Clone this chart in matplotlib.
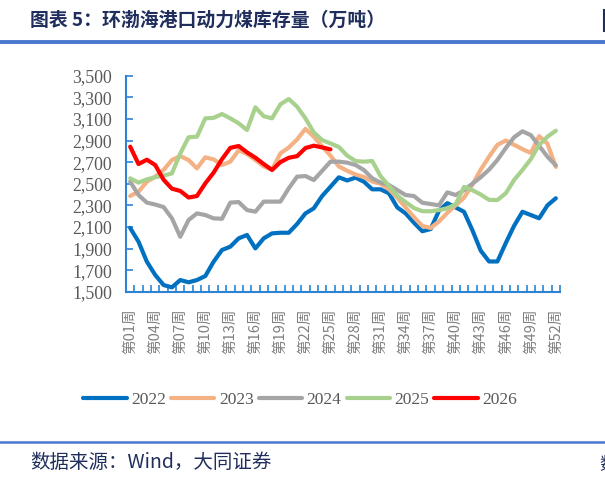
import matplotlib.pyplot as plt
from matplotlib.lines import Line2D
import numpy as np

plt.rcParams['font.family'] = ['Noto Sans CJK SC', 'DejaVu Sans']

# weekly inventory (10k tons), weeks 1-52
weeks = np.arange(1, 53)
y2022 = [2090, 1963, 1778, 1655, 1562, 1540, 1608, 1587, 1608, 1645, 1778, 1886, 1917,
         1994, 2025, 1901, 1994, 2040, 2046, 2046, 2127, 2225, 2272, 2386, 2472, 2559,
         2530, 2556, 2519, 2448, 2448, 2411, 2281, 2225, 2139, 2060, 2080, 2250, 2320,
         2280, 2240, 2070, 1880, 1780, 1780, 1950, 2110, 2240, 2210, 2180, 2300, 2365]
y2023 = [2386, 2426, 2519, 2565, 2627, 2719, 2756, 2719, 2642, 2744, 2725, 2673, 2704,
         2810, 2775, 2720, 2660, 2630, 2781, 2835, 2910, 3008, 2935, 2845, 2760, 2660,
         2620, 2585, 2562, 2520, 2500, 2450, 2370, 2280, 2190, 2110, 2090, 2150, 2230,
         2300, 2370, 2490, 2630, 2750, 2860, 2900, 2860, 2820, 2785, 2940, 2870, 2655]
y2024 = [2519, 2395, 2325, 2307, 2284, 2180, 2009, 2164, 2225, 2210, 2179, 2175, 2325,
         2330, 2256, 2241, 2334, 2334, 2334, 2457, 2565, 2571, 2534, 2619, 2704, 2704,
         2695, 2673, 2627, 2550, 2510, 2488, 2441, 2395, 2386, 2324, 2312, 2300, 2420,
         2395, 2440, 2500, 2560, 2630, 2720, 2830, 2930, 2985, 2950, 2850, 2750, 2670]
y2025 = [2550, 2510, 2540, 2560, 2575, 2595, 2780, 2930, 2935, 3105, 3110, 3145, 3105,
         3059, 2997, 3207, 3125, 3105, 3235, 3284, 3213, 3105, 2975, 2904, 2873, 2840,
         2760, 2710, 2704, 2710, 2570, 2480, 2390, 2330, 2275, 2245, 2245, 2256, 2272,
         2310, 2470, 2440, 2400, 2350, 2349, 2411, 2534, 2627, 2727, 2860, 2935, 2991]
y2026 = [2843, 2682, 2722, 2673, 2537, 2454, 2433, 2372, 2386, 2503, 2603, 2727, 2832,
         2849, 2790, 2741, 2682, 2627, 2700, 2740, 2755, 2830, 2852, 2836, 2818]

years = ['2022', '2023', '2024', '2025', '2026']
colors = ['#0070C0', '#F4B183', '#A5A5A5', '#A9D18E', '#FF0000']
values = [y2022, y2023, y2024, y2025, y2026]

yticks = np.arange(1500, 3501, 200)
xtick_weeks = np.arange(1, 53, 3)
xtick_labels = ['第%02d周' % w for w in xtick_weeks]

W, H = 605, 484
axis_blue = '#2E83D3'

fig = plt.figure(figsize=(W / 100, H / 100), dpi=100)
ax = fig.add_axes([126 / W, 1 - 291.7 / H, (560 - 126) / W, (291.7 - 75.7) / H])

for name, vals, c in zip(years, values, colors):
    ax.plot(weeks[:len(vals)], vals, color=c, lw=3, label=name,
            solid_joinstyle='round', solid_capstyle='round')

ax.set_xlim(0.5, 52.5)
ax.set_ylim(1500, 3500)

ax.set_yticks(yticks)
ax.set_yticklabels(['{:,}'.format(v) for v in yticks], family='Liberation Serif',
                   fontsize=12.8, color='#595959')
ax.tick_params(axis='y', direction='in', length=5, width=1.2, color=axis_blue, pad=10)

ax.set_xticks(xtick_weeks)
ax.set_xticklabels(xtick_labels, rotation=90, fontsize=10.5, color='#7F7F7F')
ax.tick_params(axis='x', which='major', length=0, pad=12)
ax.set_xticks(np.arange(0.5, 53, 1), minor=True)
ax.tick_params(axis='x', which='minor', direction='in', length=5, width=1.2, color=axis_blue)

for s in ['top', 'right']:
    ax.spines[s].set_visible(False)
for s in ['left', 'bottom']:
    ax.spines[s].set_color(axis_blue)
    ax.spines[s].set_linewidth(1.5)

leg = fig.legend(loc='center', bbox_to_anchor=(300 / W, 1 - 400 / H), ncol=5,
                 frameon=False, handlelength=2.5, handletextpad=0.25, columnspacing=0.3,
                 prop={'family': 'Liberation Serif', 'size': 12.5})
for t in leg.get_texts():
    t.set_color('#595959')

# title, header rule and source note
fig.text(30 / W, 1 - 20 / H, '图表 5：环渤海港口动力煤库存量（万吨）', fontsize=13.6,
         fontweight='bold', color='#1F2E5C', va='center', ha='left')
fig.add_artist(Line2D([0, 1], [1 - 41.5 / H] * 2, color='#4A78D0', lw=2.8))
fig.add_artist(Line2D([603.5 / W] * 2, [1 - 10 / H, 1 - 31 / H], color='#1F2E5C', lw=1.5))
fig.add_artist(Line2D([0, 1], [1 - 441.5 / H] * 2, color='#4A78D0', lw=1.8))
fig.text(30 / W, 1 - 463 / H, '数据来源：Wind，大同证券', fontsize=14,
         color='#1F2E5C', va='center', ha='left')
fig.text(599 / W, 1 - 465 / H, '数', fontsize=12.5, color='#1F2E5C', va='center', ha='left')

fig.savefig('out.png', dpi=100)
